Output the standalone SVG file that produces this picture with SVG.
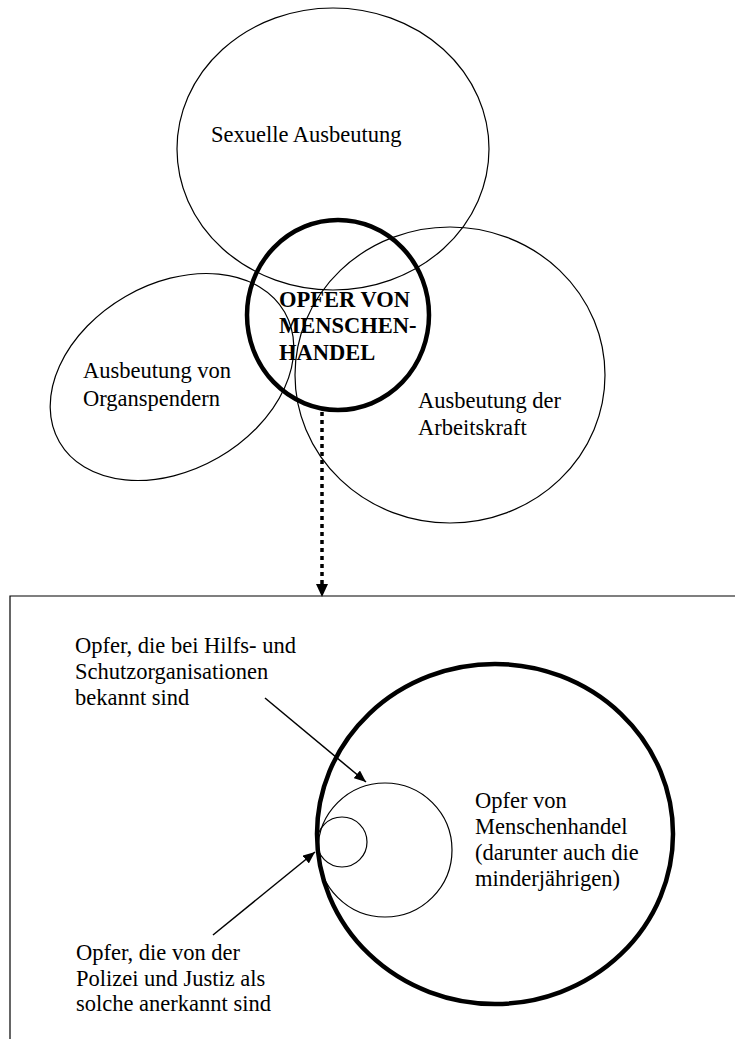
<svg xmlns="http://www.w3.org/2000/svg" width="735" height="1039" viewBox="0 0 735 1039">
<style>
.t{font-family:"Liberation Serif","Times New Roman",serif;font-size:22.5px;fill:#000}
.b{font-weight:bold}
.thin{fill:none;stroke:#000;stroke-width:1.2}
.bold{fill:none;stroke:#000;stroke-width:4.5}
</style>
<defs>
<marker id="ah" markerUnits="userSpaceOnUse" markerWidth="12" markerHeight="10" refX="12" refY="5" orient="auto">
<path d="M0,0 L12,5 L0,10 z" fill="#000"/>
</marker>
<marker id="ahd" markerUnits="userSpaceOnUse" markerWidth="13" markerHeight="12" refX="0" refY="6" orient="auto">
<path d="M0,0 L13,6 L0,12 z" fill="#000"/>
</marker>
</defs>
<rect width="735" height="1039" fill="#fff"/>
<g id="frame"><path class="thin" d="M10,1045 L10,596 L745,596"/></g>
<g id="sexuelle"><ellipse class="thin" cx="333" cy="149" rx="156" ry="141"/><text class="t" x="211" y="142">Sexuelle Ausbeutung</text></g>
<g id="organ"><ellipse class="thin" cx="172" cy="377" rx="130" ry="93" transform="rotate(-30 172 377)"/><text class="t" x="83" y="378">Ausbeutung von</text><text class="t" x="83" y="406">Organspendern</text></g>
<g id="arbeit"><ellipse class="thin" cx="450" cy="375" rx="155" ry="148"/><text class="t" x="418" y="408">Ausbeutung der</text><text class="t" x="418" y="435">Arbeitskraft</text></g>
<g id="opfer"><ellipse class="bold" cx="338" cy="315" rx="91" ry="95"/><text class="t b" x="279" y="307">OPFER VON</text><text class="t b" x="279" y="333">MENSCHEN-</text><text class="t b" x="279" y="360">HANDEL</text></g>
<g id="alle"><ellipse class="bold" cx="495" cy="834" rx="178" ry="170"/><text class="t" x="475" y="808">Opfer von</text><text class="t" x="475" y="834">Menschenhandel</text><text class="t" x="475" y="860">(darunter auch die</text><text class="t" x="475" y="886">minderjährigen)</text></g>
<g id="hilfs"><circle class="thin" cx="385" cy="850" r="67"/></g>
<g id="polizei"><circle class="thin" cx="342" cy="842" r="25"/></g>
<g id="label-hilfs"><text class="t" x="75" y="653">Opfer, die bei Hilfs- und</text><text class="t" x="75" y="679">Schutzorganisationen</text><text class="t" x="75" y="705">bekannt sind</text></g>
<g id="label-polizei"><text class="t" x="76" y="960">Opfer, die von der</text><text class="t" x="76" y="986">Polizei und Justiz als</text><text class="t" x="76" y="1011">solche anerkannt sind</text></g>
<g id="connectors">
<line x1="322" y1="412" x2="322" y2="584" stroke="#000" stroke-width="3.5" stroke-dasharray="4 4" marker-end="url(#ahd)"/>
<line x1="265" y1="698" x2="366" y2="782" stroke="#000" stroke-width="1.5" marker-end="url(#ah)"/>
<line x1="213" y1="935" x2="315" y2="852" stroke="#000" stroke-width="1.5" marker-end="url(#ah)"/>
</g>
</svg>
